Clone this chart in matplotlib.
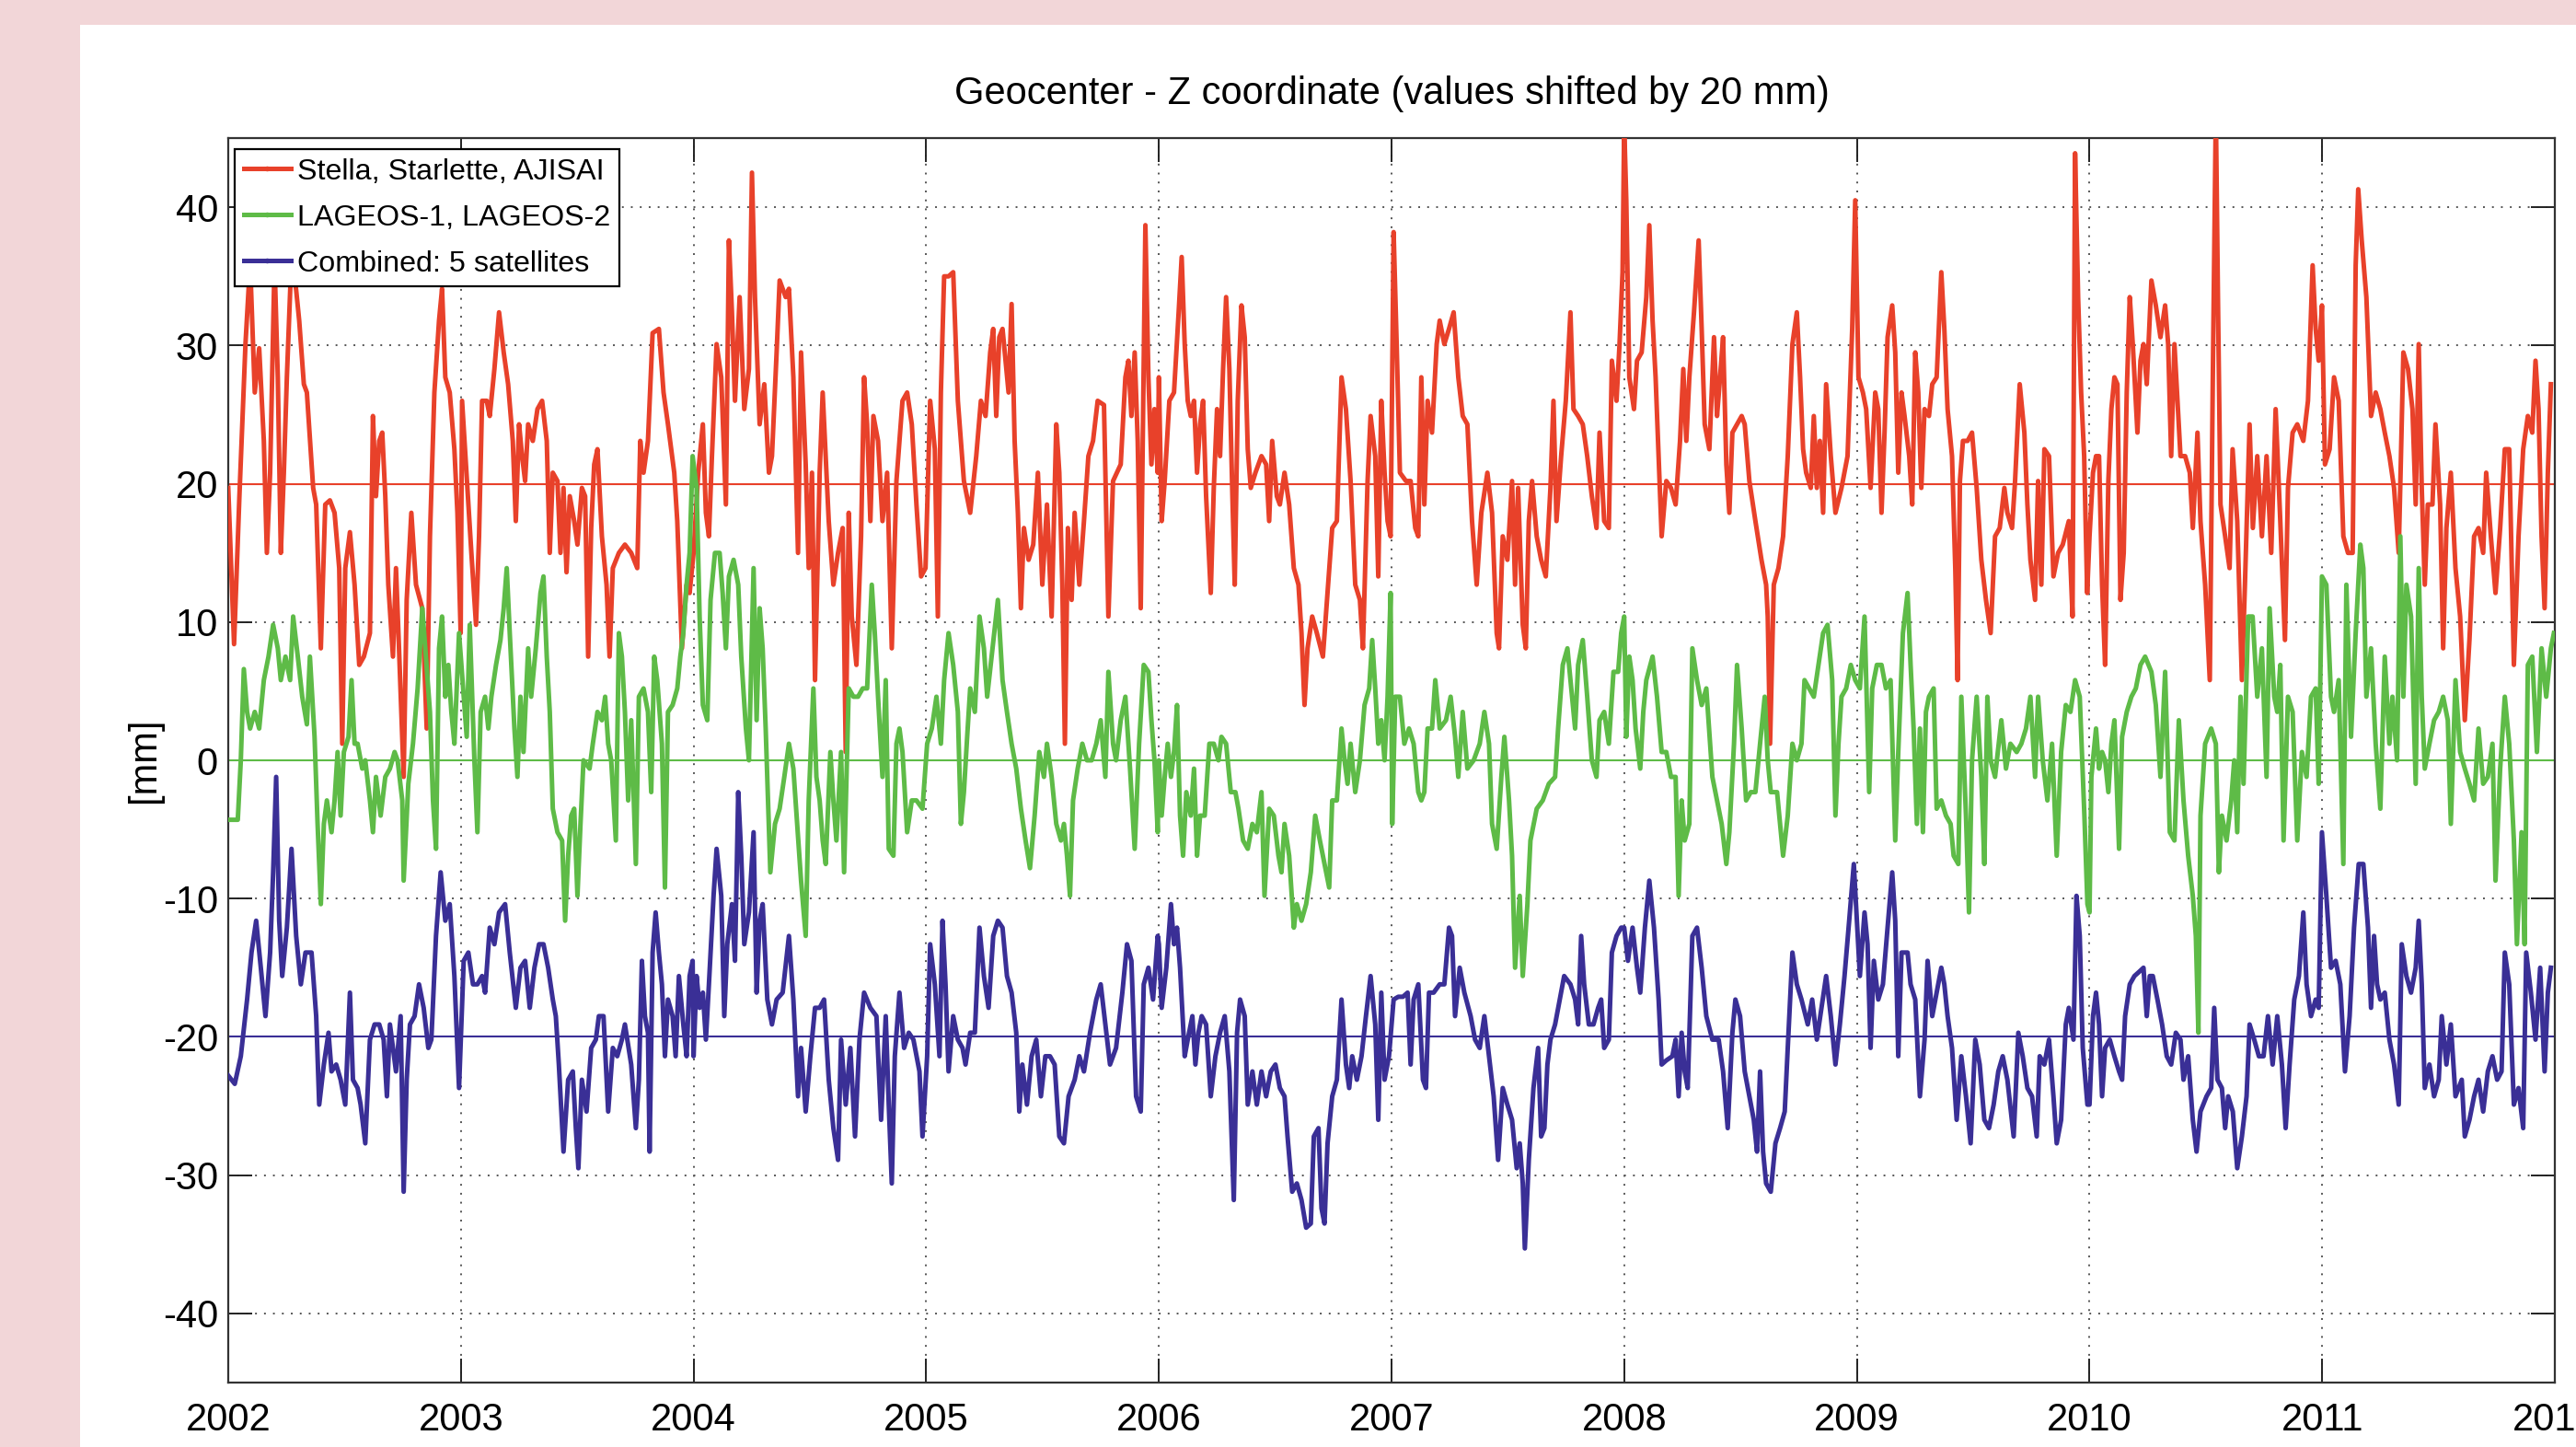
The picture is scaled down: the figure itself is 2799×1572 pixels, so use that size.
import numpy as np
import matplotlib
matplotlib.use('Agg')
import matplotlib.pyplot as plt
from matplotlib.lines import Line2D
from matplotlib.patches import Rectangle

# ---------------- data (time in years since 2002, value in mm, already shifted) -------------
START_YEAR = 2002
title_text = "Geocenter - Z coordinate (values shifted by 20 mm)"
ylabel_text = "[mm]"
series_labels = ["Stella, Starlette, AJISAI", "LAGEOS-1, LAGEOS-2", "Combined: 5 satellites"]
series_shifts = [20, 0, -20]
x_ticks = list(range(2002, 2013))
y_ticks = list(range(-40, 41, 10))

red_pts = [
(0.000,19.7),(0.025,8.4),(0.048,19.1),(0.074,30.1),(0.094,36.0),(0.114,26.6),(0.133,29.8),(0.153,23.1),(0.166,15.0),(0.180,20.8),
(0.199,36.0),(0.213,27.7),(0.226,15.0),(0.239,20.8),(0.252,27.7),(0.272,36.5),(0.292,34.0),(0.305,31.8),(0.325,27.2),(0.338,26.6),
(0.365,19.7),(0.378,18.5),(0.398,8.1),(0.417,18.5),(0.437,18.8),(0.457,17.9),(0.477,13.9),(0.490,1.2),(0.503,13.9),(0.523,16.5),
(0.543,12.7),(0.563,6.9),(0.583,7.5),(0.609,9.2),(0.622,24.9),(0.635,19.1),(0.649,23.1),(0.662,23.7),(0.675,19.1),(0.688,12.7),
(0.708,7.5),(0.721,13.9),(0.734,8.1),(0.754,-1.2),(0.767,11.6),(0.787,17.9),(0.807,12.7),(0.834,11.0),(0.853,2.3),(0.867,16.2),
(0.886,26.6),(0.906,31.8),(0.919,34.1),(0.933,27.7),(0.952,26.6),(0.972,22.5),(0.985,17.9),(0.999,9.2),(1.005,26.0),(1.032,18.5),
(1.045,15.0),(1.065,9.8),(1.078,16.2),(1.091,26.0),(1.111,26.0),(1.124,24.9),(1.144,28.3),(1.164,32.4),(1.184,29.5),(1.203,27.2),
(1.223,23.1),(1.236,17.3),(1.250,24.3),(1.263,22.0),(1.276,20.2),(1.289,24.3),(1.309,23.1),(1.329,25.4),(1.349,26.0),(1.369,23.1),
(1.382,15.0),(1.395,20.8),(1.415,20.2),(1.428,15.0),(1.441,19.7),(1.454,13.6),(1.468,19.1),(1.487,17.3),(1.501,15.6),(1.520,19.7),
(1.534,19.1),(1.547,7.5),(1.560,16.8),(1.573,21.4),(1.587,22.5),(1.606,16.2),(1.626,12.7),(1.639,7.5),(1.653,13.9),(1.679,15.0),
(1.705,15.6),(1.732,15.0),(1.758,13.9),(1.771,23.1),(1.785,20.8),(1.804,23.1),(1.824,30.9),(1.851,31.2),(1.871,26.6),(1.890,24.3),
(1.917,20.8),(1.930,17.3),(1.950,8.1),(1.970,12.7),(1.983,12.1),
(2.000,15.0),(2.020,20.8),(2.040,24.3),(2.053,17.9),(2.066,16.2),(2.079,22.0),(2.099,30.1),(2.119,27.7),(2.139,18.5),(2.152,37.6),
(2.165,32.4),(2.178,26.0),(2.198,33.5),(2.218,25.4),(2.238,28.3),(2.251,42.5),(2.264,33.5),(2.284,24.3),(2.304,27.2),(2.324,20.8),
(2.337,22.0),(2.357,29.5),(2.370,34.7),(2.396,33.5),(2.410,34.1),(2.429,27.7),(2.449,15.0),(2.462,29.5),(2.482,21.4),(2.495,13.9),
(2.509,20.8),(2.522,5.8),(2.542,20.8),(2.555,26.6),(2.568,22.0),(2.581,17.3),(2.601,12.7),(2.621,15.0),(2.641,16.8),(2.654,0.6),
(2.667,17.9),(2.680,10.4),(2.700,6.9),(2.720,16.2),(2.733,27.7),(2.746,24.3),(2.760,17.3),(2.773,24.9),(2.793,23.1),(2.812,17.3),
(2.832,20.8),(2.852,8.1),(2.872,20.2),(2.898,26.0),(2.918,26.6),(2.938,24.3),(2.958,18.5),(2.978,13.3),(2.997,13.9),(3.017,26.0),
(3.037,22.5),(3.050,10.4),(3.063,26.6),(3.077,35.0),(3.096,35.0),(3.116,35.3),(3.136,26.0),(3.162,20.2),(3.189,17.9),(3.215,22.0),
(3.235,26.0),(3.255,24.9),(3.275,29.5),(3.288,31.2),(3.301,24.9),(3.314,30.6),(3.328,31.2),(3.341,28.9),(3.354,26.6),(3.367,33.0),
(3.380,23.1),(3.394,17.9),(3.407,11.0),(3.420,16.8),(3.440,14.5),(3.460,15.6),(3.480,20.8),(3.499,12.7),(3.519,18.5),(3.539,10.4),
(3.559,24.3),(3.572,20.8),(3.585,12.7),(3.596,1.2),(3.609,16.8),(3.625,11.6),(3.638,17.9),(3.658,12.7),(3.678,17.3),(3.697,22.0),
(3.717,23.1),(3.737,26.0),(3.764,25.7),(3.783,10.4),(3.803,20.2),(3.836,21.4),(3.856,27.7),(3.869,28.9),(3.882,24.9),(3.896,29.5),
(3.909,23.1),(3.922,11.0),(3.942,38.7),(3.955,27.7),(3.968,21.4),(3.981,25.4),(3.995,20.8),
(4.000,27.7),(4.012,17.3),(4.025,20.2),(4.045,26.0),(4.065,26.6),(4.085,32.4),(4.098,36.4),(4.111,30.1),(4.124,26.0),(4.137,24.9),
(4.151,26.0),(4.164,20.8),(4.177,24.3),(4.190,26.0),(4.203,19.1),(4.223,12.1),(4.236,19.7),(4.250,25.4),(4.263,22.0),(4.276,28.3),
(4.289,33.5),(4.303,28.3),(4.316,19.1),(4.326,12.7),(4.339,26.0),(4.355,32.9),(4.369,30.6),(4.382,22.5),(4.395,19.7),(4.415,20.8),
(4.441,22.0),(4.461,21.4),(4.474,17.3),(4.487,23.1),(4.507,19.1),(4.520,18.5),(4.540,20.8),(4.560,18.5),(4.580,13.9),(4.600,12.7),
(4.613,9.2),(4.626,4.0),(4.639,8.1),(4.659,10.4),(4.679,9.2),(4.705,7.5),(4.725,12.1),(4.745,16.8),(4.765,17.3),(4.785,27.7),
(4.804,25.4),(4.824,20.2),(4.844,12.7),(4.864,11.6),(4.877,8.1),(4.897,20.2),(4.910,24.9),(4.930,22.0),(4.943,13.3),(4.956,26.0),
(4.970,20.8),(4.983,17.3),(4.996,16.2),(5.009,38.2),(5.022,30.1),(5.036,20.8),(5.062,20.2),(5.082,20.2),(5.102,16.8),(5.115,16.2),
(5.128,27.7),(5.141,18.5),(5.155,26.0),(5.174,23.7),(5.194,30.1),(5.207,31.8),(5.227,30.1),(5.247,31.2),(5.267,32.4),(5.287,27.7),
(5.306,24.9),(5.326,24.3),(5.346,17.3),(5.366,12.7),(5.386,17.9),(5.412,20.8),(5.432,17.9),(5.452,9.2),(5.462,8.1),(5.478,16.2),
(5.498,14.5),(5.518,20.2),(5.531,12.7),(5.544,19.7),(5.564,9.8),(5.577,8.1),(5.590,17.3),(5.604,20.2),(5.624,16.2),(5.643,14.5),
(5.663,13.3),(5.683,19.7),(5.696,26.0),(5.709,17.3),(5.729,22.0),(5.749,26.0),(5.769,32.4),(5.782,25.4),(5.802,24.9),(5.822,24.3),
(5.841,22.0),(5.861,19.1),(5.881,16.8),(5.894,23.7),(5.914,17.3),(5.934,16.8),(5.947,28.9),(5.967,26.0),(5.980,30.1),(5.993,35.3),
(6.000,46.0),(6.009,40.5),(6.022,27.7),(6.042,25.4),(6.055,28.9),(6.075,29.5),(6.095,33.5),(6.108,38.7),(6.122,31.8),(6.135,27.7),
(6.148,22.0),(6.161,16.2),(6.181,20.2),(6.201,19.7),(6.221,18.5),(6.240,23.1),(6.254,28.3),(6.267,23.1),(6.280,27.7),(6.300,32.4),
(6.320,37.6),(6.333,31.2),(6.346,24.3),(6.366,22.5),(6.386,30.6),(6.399,24.9),(6.412,27.7),(6.425,30.6),(6.439,21.4),(6.452,17.9),
(6.465,23.7),(6.485,24.3),(6.505,24.9),(6.518,24.3),(6.538,20.2),(6.564,17.3),(6.590,14.5),(6.610,12.7),(6.617,10.4),(6.627,1.2),
(6.643,12.7),(6.663,13.9),(6.683,16.2),(6.703,22.0),(6.723,30.1),(6.742,32.4),(6.756,27.7),(6.769,22.5),(6.782,20.8),(6.802,19.7),
(6.815,24.9),(6.828,19.7),(6.841,23.1),(6.855,17.9),(6.868,27.2),(6.888,22.0),(6.908,17.9),(6.934,19.7),(6.960,22.0),(6.980,31.2),
(6.993,40.5),(7.007,27.7),(7.026,26.6),(7.040,25.4),(7.059,19.7),(7.079,26.6),(7.092,25.4),(7.106,17.9),(7.119,23.7),(7.132,30.6),
(7.152,32.9),(7.165,29.5),(7.178,20.8),(7.192,26.6),(7.205,24.9),(7.225,22.0),(7.238,18.5),(7.251,29.5),(7.264,26.6),(7.277,19.7),
(7.291,25.4),(7.310,24.9),(7.324,27.2),(7.343,27.7),(7.363,35.3),(7.376,31.2),(7.390,25.4),(7.409,22.0),(7.423,13.9),(7.433,5.8),
(7.443,20.2),(7.456,23.1),(7.476,23.1),(7.495,23.7),(7.515,19.7),(7.535,14.5),(7.555,11.6),(7.575,9.2),(7.594,16.2),(7.614,16.8),
(7.634,19.7),(7.647,17.9),(7.667,16.8),(7.680,20.2),(7.700,27.2),(7.720,23.7),(7.733,18.5),(7.746,14.5),(7.766,11.6),(7.779,20.2),
(7.793,12.7),(7.806,22.5),(7.826,22.0),(7.845,13.3),(7.865,15.0),(7.885,15.6),(7.911,17.3),(7.927,10.4),(7.938,43.9),(7.951,33.5),
(7.964,26.6),(7.977,22.0),(7.990,12.1),
(8.000,16.2),(8.015,20.8),(8.028,22.0),(8.041,22.0),(8.054,12.7),(8.067,6.9),(8.081,20.2),(8.094,25.4),(8.107,27.7),(8.120,27.2),
(8.133,11.6),(8.147,15.0),(8.160,26.6),(8.173,33.5),(8.186,30.1),(8.206,23.7),(8.219,28.9),(8.232,30.1),(8.246,27.2),(8.266,34.7),
(8.285,32.9),(8.305,30.6),(8.325,32.9),(8.338,30.1),(8.351,22.0),(8.365,30.1),(8.378,26.0),(8.391,22.0),(8.411,22.0),(8.431,20.8),
(8.444,16.8),(8.464,23.7),(8.477,17.3),(8.497,12.7),(8.517,5.8),(8.530,27.7),(8.543,47.0),(8.552,33.5),(8.563,18.5),(8.583,16.2),
(8.602,13.9),(8.615,22.5),(8.635,17.3),(8.655,5.8),(8.668,12.7),(8.688,24.3),(8.702,16.8),(8.721,22.0),(8.741,16.2),(8.761,22.0),
(8.781,15.0),(8.800,25.4),(8.820,17.3),(8.840,8.7),(8.853,19.7),(8.873,23.7),(8.893,24.3),(8.919,23.1),(8.939,26.0),(8.959,35.8),
(8.972,31.2),(8.985,28.9),(8.999,32.9),(9.012,21.4),(9.032,22.5),(9.051,27.7),(9.071,26.0),(9.091,16.2),(9.111,15.0),(9.131,15.0),
(9.144,35.8),(9.155,41.3),(9.170,37.6),(9.190,33.5),(9.210,24.9),(9.230,26.6),(9.250,25.4),(9.269,23.7),(9.289,22.0),(9.309,19.7),
(9.329,15.0),(9.349,29.5),(9.369,28.3),(9.388,25.4),(9.402,18.5),(9.415,30.1),(9.428,19.7),(9.441,12.7),(9.454,18.5),(9.474,18.5),
(9.487,24.3),(9.507,18.5),(9.520,8.1),(9.534,16.8),(9.553,20.8),(9.573,13.9),(9.593,10.4),(9.613,2.9),(9.633,8.7),(9.653,16.2),
(9.672,16.8),(9.692,15.0),(9.705,20.8),(9.725,16.2),(9.745,12.1),(9.765,16.8),(9.785,22.5),(9.804,22.5),(9.824,6.9),(9.844,16.2),
(9.864,22.5),(9.884,24.9),(9.903,23.7),(9.917,28.9),(9.930,25.4),(9.943,16.2),(9.956,11.0),(9.970,20.8),(9.983,27.2),
]

green_pts = [
(0.000,-4.3),(0.041,-4.3),(0.054,0.0),(0.067,6.6),(0.081,3.5),(0.094,2.3),(0.114,3.5),(0.133,2.3),(0.153,5.8),(0.173,7.5),
(0.193,9.8),(0.213,8.1),(0.226,5.8),(0.246,7.5),(0.266,5.8),(0.279,10.4),(0.299,7.5),(0.318,4.6),(0.338,2.6),(0.351,7.5),
(0.371,1.7),(0.384,-4.6),(0.398,-10.4),(0.411,-4.6),(0.424,-2.9),(0.444,-5.2),(0.457,-2.9),(0.470,0.6),(0.483,-4.0),(0.497,0.6),
(0.517,1.7),(0.530,5.8),(0.543,1.2),(0.556,1.2),(0.576,-0.6),(0.589,0.0),(0.609,-2.9),(0.622,-5.2),(0.635,-1.2),(0.655,-4.0),
(0.675,-1.2),(0.695,-0.6),(0.715,0.6),(0.728,0.0),(0.748,-2.9),(0.754,-8.7),(0.774,-1.7),(0.794,1.2),(0.814,5.2),(0.834,11.0),
(0.847,8.1),(0.867,3.5),(0.880,-2.9),(0.893,-6.4),(0.906,8.1),(0.919,10.4),(0.933,4.6),(0.946,6.9),(0.959,3.5),(0.972,1.2),
(0.992,9.2),(1.012,4.6),(1.025,1.7),(1.038,9.8),(1.058,0.0),(1.071,-5.2),(1.085,3.5),(1.104,4.6),(1.118,2.3),(1.131,4.6),
(1.151,6.9),(1.170,8.7),(1.184,11.0),(1.197,13.9),(1.210,9.2),(1.230,2.3),(1.243,-1.2),(1.256,4.6),(1.269,0.6),(1.289,8.1),
(1.302,4.6),(1.322,8.1),(1.342,12.1),(1.355,13.3),(1.369,7.5),(1.382,3.5),(1.395,-3.5),(1.415,-5.2),(1.435,-5.8),(1.448,-11.6),
(1.461,-6.9),(1.474,-4.0),(1.487,-3.5),(1.501,-9.8),(1.514,-4.6),(1.527,0.0),(1.553,-0.6),(1.567,1.2),(1.587,3.5),(1.606,2.9),
(1.620,4.6),(1.633,1.2),(1.646,0.0),(1.666,-5.8),(1.679,9.2),(1.692,7.5),(1.705,3.5),(1.719,-2.9),(1.732,2.9),(1.752,-7.5),
(1.765,4.6),(1.785,5.2),(1.804,3.5),(1.818,-2.3),(1.831,7.5),(1.844,5.8),(1.864,1.2),(1.877,-9.2),(1.890,3.5),(1.910,4.0),
(1.930,5.2),(1.943,7.5),(1.956,9.2),(1.970,12.7),(1.983,15.0),(1.996,22.0),
(2.013,19.7),(2.026,10.4),(2.040,4.0),(2.059,2.9),(2.073,11.6),(2.092,15.0),(2.112,15.0),(2.125,12.1),(2.139,8.1),(2.152,13.3),
(2.172,14.5),(2.192,12.7),(2.205,7.5),(2.225,2.3),(2.238,0.0),(2.251,9.2),(2.258,13.9),(2.271,2.9),(2.284,11.0),(2.297,8.1),
(2.310,2.3),(2.330,-8.1),(2.350,-4.6),(2.370,-3.5),(2.390,-1.2),(2.410,1.2),(2.429,-0.6),(2.443,-4.0),(2.462,-8.7),(2.482,-12.7),
(2.495,-2.9),(2.515,5.2),(2.528,-1.2),(2.542,-2.9),(2.555,-5.8),(2.568,-7.5),(2.588,0.6),(2.601,-2.9),(2.614,-5.8),(2.634,0.6),
(2.647,-8.1),(2.667,5.2),(2.687,4.6),(2.707,4.6),(2.727,5.2),(2.746,5.2),(2.766,12.7),(2.779,9.2),(2.793,4.6),(2.812,-1.2),
(2.826,5.8),(2.839,-6.4),(2.859,-6.9),(2.872,1.2),(2.885,2.3),(2.898,0.6),(2.918,-5.2),(2.938,-2.9),(2.958,-2.9),(2.984,-3.5),
(3.004,1.2),(3.024,2.3),(3.044,4.6),(3.063,1.2),(3.077,5.8),(3.096,9.2),(3.116,6.9),(3.136,3.5),(3.149,-4.6),(3.162,-2.3),
(3.176,1.7),(3.189,5.2),(3.209,3.5),(3.229,10.4),(3.248,8.1),(3.262,4.6),(3.281,7.5),(3.308,11.6),(3.328,5.8),(3.347,3.5),
(3.367,1.2),(3.387,-0.6),(3.407,-3.5),(3.427,-5.8),(3.446,-7.8),(3.466,-4.0),(3.486,0.6),(3.506,-1.2),(3.519,1.2),(3.539,-1.2),
(3.559,-4.6),(3.579,-5.8),(3.592,-4.6),(3.605,-6.9),(3.618,-9.8),(3.631,-2.9),(3.651,-0.6),(3.671,1.2),(3.691,0.0),(3.711,0.0),
(3.731,1.2),(3.750,2.9),(3.770,-1.2),(3.783,6.4),(3.803,1.2),(3.816,0.0),(3.836,2.9),(3.856,4.6),(3.876,-0.6),(3.896,-6.4),
(3.915,1.2),(3.935,6.9),(3.955,6.4),(3.968,2.9),(3.981,0.0),(3.995,-5.2),
(4.000,0.0),(4.012,-4.0),(4.025,-1.2),(4.038,1.2),(4.052,-1.2),(4.065,0.6),(4.078,4.0),(4.091,-4.0),(4.104,-6.9),(4.118,-2.3),
(4.137,-4.0),(4.151,-0.6),(4.164,-6.9),(4.177,-4.0),(4.197,-4.0),(4.217,1.2),(4.236,1.2),(4.256,0.0),(4.269,1.7),(4.289,1.2),
(4.309,-2.3),(4.329,-2.3),(4.342,-3.5),(4.362,-5.8),(4.382,-6.4),(4.402,-4.6),(4.421,-5.2),(4.441,-2.3),(4.454,-9.8),(4.474,-3.5),
(4.494,-4.0),(4.514,-6.9),(4.527,-8.1),(4.540,-4.6),(4.560,-6.9),(4.580,-12.1),(4.593,-10.4),(4.613,-11.6),(4.633,-10.4),(4.653,-8.1),
(4.672,-4.0),(4.692,-5.8),(4.712,-7.5),(4.732,-9.2),(4.745,-2.9),(4.765,-2.9),(4.785,2.3),(4.798,0.0),(4.811,-1.7),(4.824,1.2),
(4.844,-2.3),(4.864,0.0),(4.884,4.0),(4.904,5.2),(4.917,8.7),(4.930,5.2),(4.943,1.2),(4.956,2.9),(4.970,0.0),(4.983,4.6),
(4.996,12.1),(5.003,-4.6),(5.016,4.6),(5.036,4.6),(5.055,1.2),(5.075,2.3),(5.095,1.2),(5.115,-2.3),(5.128,-2.9),(5.141,-2.3),
(5.155,2.3),(5.174,2.3),(5.188,5.8),(5.207,2.3),(5.234,2.9),(5.254,4.6),(5.273,1.7),(5.287,-1.2),(5.306,3.5),(5.326,-0.6),
(5.353,0.0),(5.379,1.2),(5.399,3.5),(5.419,1.2),(5.432,-4.6),(5.452,-6.4),(5.472,-1.2),(5.485,1.7),(5.505,-2.9),(5.518,-6.9),
(5.531,-15.0),(5.551,-9.8),(5.564,-15.6),(5.584,-10.4),(5.597,-5.8),(5.624,-3.5),(5.650,-2.9),(5.676,-1.7),(5.703,-1.2),(5.716,2.3),
(5.736,6.9),(5.756,8.1),(5.776,4.6),(5.789,2.3),(5.802,6.9),(5.822,8.7),(5.841,4.6),(5.861,0.0),(5.881,-1.2),(5.894,2.9),
(5.914,3.5),(5.934,1.2),(5.954,6.4),(5.974,6.4),(5.987,9.2),
(6.000,10.4),(6.009,1.7),(6.022,7.5),(6.036,5.8),(6.049,2.3),(6.069,-0.6),(6.082,3.5),(6.095,5.8),(6.122,7.5),(6.141,4.6),
(6.161,0.6),(6.181,0.6),(6.201,-1.2),(6.221,-1.2),(6.234,-9.8),(6.247,-2.9),(6.260,-5.8),(6.280,-4.6),(6.293,8.1),(6.313,5.8),
(6.333,4.0),(6.353,5.2),(6.379,-1.2),(6.399,-2.9),(6.419,-4.6),(6.439,-7.5),(6.452,-5.2),(6.472,1.2),(6.485,6.9),(6.505,2.3),
(6.524,-2.9),(6.544,-2.3),(6.564,-2.3),(6.584,1.2),(6.604,4.6),(6.617,0.0),(6.630,-2.3),(6.657,-2.3),(6.670,-4.6),(6.683,-6.9),
(6.703,-4.0),(6.723,1.2),(6.742,0.0),(6.762,1.2),(6.775,5.8),(6.795,5.2),(6.815,4.6),(6.835,6.9),(6.855,9.2),(6.874,9.8),
(6.894,5.8),(6.908,-4.0),(6.921,1.2),(6.934,4.6),(6.954,5.2),(6.974,6.9),(6.993,5.8),(7.013,5.2),(7.033,10.4),(7.053,-2.3),
(7.066,5.2),(7.086,6.9),(7.106,6.9),(7.125,5.2),(7.145,5.8),(7.165,-5.8),(7.178,0.6),(7.198,9.2),(7.218,12.1),(7.231,6.9),
(7.244,2.3),(7.258,-4.6),(7.271,2.3),(7.284,-5.2),(7.297,3.5),(7.310,4.6),(7.330,5.2),(7.343,-3.5),(7.363,-2.9),(7.383,-4.0),
(7.403,-4.6),(7.416,-6.9),(7.436,-7.5),(7.449,4.6),(7.469,-4.0),(7.482,-11.0),(7.495,0.0),(7.515,4.6),(7.535,-1.2),(7.548,-7.5),
(7.561,4.6),(7.575,0.0),(7.594,-1.2),(7.621,2.9),(7.641,-0.6),(7.660,1.2),(7.687,0.6),(7.707,1.2),(7.727,2.3),(7.746,4.6),
(7.766,-1.2),(7.779,4.6),(7.799,0.0),(7.819,-2.9),(7.839,1.2),(7.859,-6.9),(7.878,0.6),(7.898,4.0),(7.918,3.5),(7.938,5.8),
(7.958,4.6),(7.978,-4.0),(7.991,-10.4),
(8.000,-11.0),(8.008,-1.2),(8.028,2.3),(8.041,-0.6),(8.054,0.6),(8.067,0.0),(8.081,-2.3),(8.094,1.2),(8.107,2.9),(8.127,-6.4),
(8.140,1.7),(8.160,3.5),(8.180,4.6),(8.199,5.2),(8.219,6.9),(8.239,7.5),(8.266,6.4),(8.285,4.0),(8.305,-1.2),(8.325,6.4),
(8.345,-5.2),(8.365,-5.8),(8.384,2.9),(8.404,-2.9),(8.424,-6.9),(8.444,-9.8),(8.457,-12.7),(8.468,-19.7),(8.477,-4.0),(8.497,1.2),
(8.523,2.3),(8.543,1.2),(8.556,-8.1),(8.569,-4.0),(8.589,-5.8),(8.609,-2.9),(8.622,0.0),(8.635,-5.2),(8.649,4.6),(8.662,-1.7),
(8.682,10.4),(8.701,10.4),(8.721,4.6),(8.741,8.1),(8.761,-1.2),(8.774,11.0),(8.794,4.6),(8.807,3.5),(8.820,6.9),(8.834,-5.8),
(8.853,4.6),(8.873,3.5),(8.893,-5.8),(8.913,0.6),(8.933,-1.2),(8.952,4.6),(8.972,5.2),(8.985,-1.7),(8.999,13.3),(9.018,12.7),
(9.038,4.6),(9.051,3.5),(9.071,5.8),(9.091,-7.5),(9.104,12.7),(9.124,1.7),(9.144,9.2),(9.164,15.6),(9.177,13.9),(9.190,4.6),
(9.210,8.1),(9.230,1.2),(9.250,-3.5),(9.269,7.5),(9.289,1.2),(9.302,4.6),(9.322,0.0),(9.336,16.2),(9.349,4.6),(9.362,12.7),
(9.382,10.4),(9.402,-1.7),(9.415,13.9),(9.428,4.6),(9.441,-0.6),(9.461,1.2),(9.481,2.9),(9.501,3.5),(9.520,4.6),(9.540,2.9),
(9.553,-4.6),(9.573,5.8),(9.593,0.6),(9.613,-0.6),(9.633,-1.7),(9.653,-2.9),(9.672,2.3),(9.692,-1.7),(9.712,-1.2),(9.732,1.2),
(9.745,-8.7),(9.765,-0.6),(9.785,4.6),(9.804,1.2),(9.824,-5.8),(9.837,-13.3),(9.857,-5.2),(9.870,-13.3),(9.884,6.9),(9.903,7.5),
(9.923,0.6),(9.943,8.1),(9.963,4.6),(9.983,8.1),(9.996,9.2),
]

blue_pts = [
(0.000,-22.8),(0.028,-23.4),(0.054,-21.4),(0.081,-17.3),(0.100,-13.9),(0.120,-11.6),(0.140,-15.0),(0.160,-18.5),(0.180,-13.9),(0.193,-8.1),
(0.206,-1.2),(0.219,-11.6),(0.232,-15.6),(0.252,-12.1),(0.272,-6.4),(0.292,-12.7),(0.312,-16.2),(0.332,-13.9),(0.358,-13.9),(0.378,-18.5),
(0.391,-24.9),(0.411,-22.0),(0.431,-19.7),(0.444,-22.5),(0.464,-22.0),(0.483,-23.1),(0.503,-24.9),(0.523,-16.8),(0.536,-23.1),(0.556,-23.7),
(0.569,-24.9),(0.589,-27.7),(0.609,-20.2),(0.629,-19.1),(0.649,-19.1),(0.668,-20.2),(0.682,-24.3),(0.695,-19.1),(0.708,-20.8),(0.721,-22.5),
(0.741,-18.5),(0.754,-31.2),(0.767,-23.1),(0.781,-19.1),(0.801,-18.5),(0.820,-16.2),(0.840,-17.9),(0.860,-20.8),(0.873,-20.2),(0.893,-12.7),
(0.913,-8.1),(0.933,-11.6),(0.952,-10.4),(0.972,-15.6),(0.992,-23.7),(1.012,-14.5),(1.032,-13.9),(1.052,-16.2),(1.071,-16.2),(1.091,-15.6),
(1.104,-16.8),(1.124,-12.1),(1.144,-13.3),(1.164,-11.0),(1.190,-10.4),(1.210,-13.9),(1.236,-17.9),(1.256,-15.0),(1.276,-14.5),(1.296,-17.9),
(1.316,-15.0),(1.336,-13.3),(1.355,-13.3),(1.375,-15.0),(1.395,-17.3),(1.408,-18.5),(1.421,-22.0),(1.441,-28.3),(1.461,-23.1),(1.481,-22.5),
(1.494,-26.6),(1.505,-29.5),(1.520,-23.1),(1.540,-25.4),(1.560,-20.8),(1.580,-20.2),(1.593,-18.5),(1.613,-18.5),(1.633,-25.4),(1.653,-20.8),
(1.672,-21.4),(1.692,-20.2),(1.705,-19.1),(1.732,-22.0),(1.752,-26.6),(1.765,-23.1),(1.778,-14.5),(1.791,-18.5),(1.804,-19.7),(1.811,-28.3),
(1.824,-13.9),(1.837,-11.0),(1.851,-13.9),(1.864,-16.2),(1.877,-21.4),(1.890,-17.3),(1.910,-18.5),(1.923,-21.4),(1.937,-15.6),(1.956,-19.1),
(1.970,-21.4),(1.983,-15.6),(1.996,-14.5),
(2.000,-21.4),(2.013,-15.6),(2.026,-17.9),(2.040,-16.8),(2.053,-20.2),(2.066,-16.2),(2.086,-9.8),(2.099,-6.4),(2.119,-9.8),(2.132,-18.5),
(2.145,-13.3),(2.165,-10.4),(2.178,-14.5),(2.192,-2.3),(2.205,-6.9),(2.218,-13.3),(2.238,-11.0),(2.258,-5.2),(2.271,-16.8),(2.284,-11.6),
(2.297,-10.4),(2.317,-17.3),(2.337,-19.1),(2.357,-17.3),(2.383,-16.8),(2.410,-12.7),(2.429,-17.3),(2.449,-24.3),(2.462,-20.8),(2.482,-25.4),
(2.502,-21.4),(2.522,-17.9),(2.542,-17.9),(2.561,-17.3),(2.581,-23.1),(2.601,-26.6),(2.621,-28.9),(2.634,-20.2),(2.654,-24.9),(2.674,-20.8),
(2.694,-27.2),(2.713,-20.2),(2.733,-16.8),(2.760,-17.9),(2.786,-18.5),(2.806,-26.0),(2.826,-18.5),(2.839,-24.9),(2.852,-30.6),(2.865,-21.4),
(2.885,-16.8),(2.905,-20.8),(2.925,-19.7),(2.945,-20.2),(2.971,-22.5),(2.984,-27.2),(3.004,-21.4),(3.017,-13.3),(3.037,-16.2),(3.057,-21.4),
(3.070,-11.6),(3.083,-16.2),(3.096,-22.5),(3.116,-18.5),(3.136,-20.2),(3.156,-20.8),(3.169,-22.0),(3.189,-19.7),(3.209,-19.7),(3.229,-12.1),
(3.248,-15.6),(3.268,-17.9),(3.288,-12.7),(3.308,-11.6),(3.328,-12.1),(3.347,-15.6),(3.367,-16.8),(3.387,-19.7),(3.400,-25.4),(3.413,-22.0),
(3.433,-24.9),(3.453,-21.4),(3.473,-20.2),(3.493,-24.3),(3.512,-21.4),(3.532,-21.4),(3.552,-22.0),(3.572,-27.2),(3.592,-27.7),(3.612,-24.3),
(3.638,-23.1),(3.658,-21.4),(3.678,-22.5),(3.704,-19.7),(3.731,-17.3),(3.750,-16.2),(3.770,-19.1),(3.790,-22.0),(3.816,-20.8),(3.843,-16.8),
(3.863,-13.3),(3.882,-14.5),(3.902,-24.3),(3.922,-25.4),(3.935,-16.2),(3.955,-15.0),(3.975,-17.3),(3.995,-12.7),
(4.000,-13.3),(4.012,-17.9),(4.032,-15.0),(4.052,-10.4),(4.065,-13.3),(4.078,-12.1),(4.091,-15.0),(4.111,-21.4),(4.124,-20.2),(4.144,-18.5),
(4.157,-22.0),(4.170,-19.7),(4.184,-18.5),(4.203,-19.1),(4.223,-24.3),(4.243,-21.4),(4.263,-19.7),(4.283,-18.5),(4.303,-22.5),(4.322,-31.8),
(4.336,-19.7),(4.349,-17.3),(4.369,-18.5),(4.382,-24.9),(4.402,-22.5),(4.421,-24.9),(4.441,-22.5),(4.461,-24.3),(4.481,-22.5),(4.501,-22.0),
(4.520,-23.7),(4.540,-24.3),(4.553,-27.2),(4.573,-31.2),(4.593,-30.6),(4.613,-31.8),(4.633,-33.8),(4.653,-33.5),(4.666,-27.2),(4.686,-26.6),
(4.699,-32.4),(4.712,-33.5),(4.725,-27.7),(4.745,-24.3),(4.765,-23.1),(4.785,-17.3),(4.804,-22.0),(4.818,-23.7),(4.831,-21.4),(4.851,-23.1),
(4.871,-21.4),(4.890,-18.5),(4.910,-15.6),(4.930,-19.1),(4.943,-26.0),(4.956,-16.8),(4.970,-23.1),(4.989,-21.4),(5.009,-17.3),(5.029,-17.1),
(5.049,-17.1),(5.069,-16.8),(5.082,-22.0),(5.095,-17.3),(5.115,-16.2),(5.135,-23.1),(5.148,-23.7),(5.161,-16.8),(5.181,-16.8),(5.207,-16.2),
(5.227,-16.2),(5.247,-12.1),(5.260,-12.7),(5.273,-18.5),(5.293,-15.0),(5.313,-16.8),(5.340,-18.5),(5.359,-20.2),(5.379,-20.8),(5.399,-18.5),
(5.419,-21.4),(5.439,-24.3),(5.458,-28.9),(5.478,-23.7),(5.498,-24.9),(5.518,-26.0),(5.538,-29.5),(5.551,-27.7),(5.564,-30.6),(5.573,-35.3),
(5.590,-28.9),(5.610,-23.7),(5.630,-20.8),(5.643,-27.2),(5.657,-26.6),(5.670,-22.0),(5.683,-20.2),(5.703,-19.1),(5.723,-17.3),(5.742,-15.6),
(5.769,-16.2),(5.789,-17.3),(5.802,-19.1),(5.815,-12.7),(5.828,-16.2),(5.848,-19.1),(5.868,-19.1),(5.888,-17.9),(5.901,-17.3),(5.914,-20.8),
(5.934,-20.2),(5.947,-13.9),(5.967,-12.7),(5.987,-12.1),
(6.000,-12.1),(6.016,-14.5),(6.036,-12.1),(6.055,-15.0),(6.069,-16.8),(6.089,-12.1),(6.108,-8.7),(6.128,-12.1),(6.148,-17.3),(6.161,-22.0),
(6.181,-21.7),(6.207,-21.4),(6.221,-20.2),(6.234,-24.3),(6.247,-19.7),(6.260,-22.5),(6.273,-23.7),(6.293,-12.7),(6.313,-12.1),(6.333,-15.0),
(6.353,-18.5),(6.379,-20.2),(6.406,-20.2),(6.425,-22.5),(6.445,-26.6),(6.465,-19.7),(6.478,-17.3),(6.498,-18.5),(6.518,-22.5),(6.538,-24.3),
(6.557,-26.0),(6.571,-28.3),(6.584,-22.5),(6.597,-28.3),(6.610,-30.6),(6.630,-31.2),(6.650,-27.7),(6.670,-26.6),(6.690,-25.4),(6.703,-20.8),
(6.723,-13.9),(6.742,-16.2),(6.762,-17.3),(6.789,-19.1),(6.808,-17.3),(6.828,-20.2),(6.848,-17.9),(6.868,-15.6),(6.888,-18.5),(6.908,-22.0),
(6.927,-19.1),(6.947,-15.6),(6.967,-11.6),(6.987,-7.5),(7.000,-11.6),(7.013,-15.6),(7.033,-11.0),(7.046,-13.3),(7.059,-20.8),(7.073,-14.5),
(7.092,-17.3),(7.112,-16.2),(7.132,-12.1),(7.152,-8.1),(7.165,-11.6),(7.178,-21.4),(7.192,-13.9),(7.218,-13.9),(7.231,-16.2),(7.251,-17.3),
(7.271,-24.3),(7.291,-20.2),(7.304,-14.5),(7.324,-18.5),(7.343,-16.8),(7.363,-15.0),(7.376,-16.2),(7.390,-18.5),(7.409,-20.8),(7.429,-26.0),
(7.449,-21.4),(7.469,-24.3),(7.489,-27.7),(7.509,-20.2),(7.528,-22.0),(7.548,-26.0),(7.568,-26.6),(7.588,-24.9),(7.608,-22.5),(7.627,-21.4),
(7.647,-23.1),(7.674,-27.2),(7.694,-19.7),(7.713,-21.4),(7.733,-23.7),(7.753,-24.3),(7.773,-27.2),(7.786,-21.4),(7.806,-22.0),(7.826,-20.2),
(7.845,-24.3),(7.859,-27.7),(7.878,-26.0),(7.898,-19.1),(7.911,-17.9),(7.931,-20.2),(7.944,-9.8),(7.958,-12.7),(7.971,-20.8),(7.991,-24.9),
(8.000,-24.9),(8.015,-18.5),(8.028,-16.8),(8.041,-19.1),(8.054,-24.3),(8.067,-20.8),(8.087,-20.2),(8.107,-21.4),(8.127,-22.5),(8.140,-23.1),
(8.153,-18.5),(8.173,-16.2),(8.193,-15.6),(8.213,-15.3),(8.232,-15.0),(8.246,-18.5),(8.259,-15.6),(8.272,-15.6),(8.292,-17.3),(8.312,-19.1),
(8.332,-21.4),(8.351,-22.0),(8.371,-19.7),(8.391,-20.2),(8.404,-23.1),(8.424,-21.4),(8.444,-26.0),(8.460,-28.3),(8.477,-25.4),(8.503,-24.3),
(8.523,-23.7),(8.536,-17.9),(8.550,-23.1),(8.569,-23.7),(8.583,-26.6),(8.596,-24.3),(8.616,-25.4),(8.635,-29.5),(8.655,-27.2),(8.675,-24.3),
(8.688,-19.1),(8.708,-20.2),(8.728,-21.4),(8.748,-21.4),(8.767,-18.5),(8.787,-22.0),(8.807,-18.5),(8.827,-22.0),(8.843,-26.6),(8.860,-22.0),
(8.880,-17.3),(8.900,-15.6),(8.919,-11.0),(8.933,-16.2),(8.952,-18.5),(8.972,-17.3),(8.985,-17.9),(8.999,-5.2),(9.018,-9.8),(9.038,-15.0),
(9.058,-14.5),(9.078,-16.2),(9.098,-22.5),(9.118,-18.5),(9.137,-12.1),(9.157,-7.5),(9.177,-7.5),(9.197,-12.1),(9.210,-17.9),(9.223,-12.7),
(9.236,-16.2),(9.250,-17.3),(9.269,-16.8),(9.289,-20.2),(9.309,-22.0),(9.329,-24.9),(9.342,-13.3),(9.362,-15.6),(9.382,-16.8),(9.402,-15.0),
(9.415,-11.6),(9.428,-16.2),(9.441,-23.7),(9.461,-22.0),(9.481,-24.3),(9.501,-23.1),(9.514,-18.5),(9.534,-22.0),(9.553,-19.1),(9.573,-24.3),
(9.600,-23.1),(9.613,-27.2),(9.633,-26.0),(9.653,-24.3),(9.672,-23.1),(9.692,-25.4),(9.712,-22.5),(9.732,-21.4),(9.752,-23.1),(9.771,-22.5),
(9.785,-13.9),(9.804,-16.2),(9.824,-24.9),(9.844,-23.7),(9.864,-26.6),(9.877,-13.9),(9.897,-16.8),(9.917,-20.2),(9.937,-15.0),(9.956,-22.5),
(9.970,-16.8),(9.983,-15.0),
]

# ---------------- style ----------------
PINK = '#F2D6D8'
COLORS = ['#E8412A', '#5EBB47', '#3A2F96']

plt.rcParams['font.family'] = ['Liberation Sans', 'DejaVu Sans']

W, H = 2799, 1572
fig = plt.figure(figsize=(W / 100, H / 100), dpi=100, facecolor=PINK)
bg = Rectangle((87 / W, 0), 1 - 87 / W, 1 - 27 / H, transform=fig.transFigure,
               facecolor='white', edgecolor='none', zorder=-10)
fig.patches.append(bg)

ax_l, ax_r, ax_t, ax_b = 248, 2776, 150, 1502
ax = fig.add_axes([ax_l / W, (H - ax_b) / H, (ax_r - ax_l) / W, (ax_b - ax_t) / H])
ax.set_zorder(1)
ax.set_facecolor('white')

for pts, col, shift in zip([red_pts, green_pts, blue_pts], COLORS, series_shifts):
    arr = np.array(pts)
    ax.axhline(shift, color=col, lw=1.5, zorder=2)
    ax.plot(START_YEAR + arr[:, 0], arr[:, 1], color=col, lw=3.6, zorder=3)

ax.set_xlim(2002, 2012)
ax.set_ylim(-45, 45)
ax.set_xticks(x_ticks)
ax.set_yticks(y_ticks)
ax.set_xticklabels([str(x) for x in x_ticks])
ax.set_yticklabels([str(y) for y in y_ticks])
ax.tick_params(direction='in', length=19, width=1.4, top=True, right=True,
               labelsize=30, color='#222222')
ax.tick_params(axis='x', pad=15)
ax.tick_params(axis='y', pad=8)
ax.grid(True, linestyle=(0, (1, 4)), color='#555555', linewidth=1.4)
ax.set_axisbelow(True)
for sp in ax.spines.values():
    sp.set_linewidth(1.6)
    sp.set_color('#333333')

handles = [Line2D([], [], color=c, lw=3.6, marker='.', markersize=6) for c in COLORS]
leg = ax.legend(handles, series_labels, loc='upper left',
                bbox_to_anchor=(7 / (ax_r - ax_l), 1 - 12 / (ax_b - ax_t)),
                borderaxespad=0, frameon=True, fancybox=False, framealpha=1,
                edgecolor='black', fontsize=23.2, handlelength=1.6, handletextpad=0.2,
                borderpad=0.3, labelspacing=0.62, numpoints=1)
leg.get_frame().set_linewidth(1.6)
leg.set_zorder(5)

fig.text((ax_l + ax_r) / 2 / W, 1 - 102 / H, title_text, ha='center', va='center', fontsize=30)
fig.text(157 / W, 1 - (ax_t + ax_b) / 2 / H, ylabel_text, rotation=90, ha='center', va='center', fontsize=30)

fig.savefig('out.png', dpi=100, facecolor=PINK)
